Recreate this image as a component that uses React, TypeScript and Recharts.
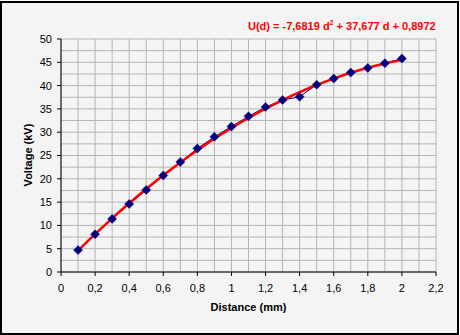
import React from 'react';
import { ComposedChart, Line, XAxis, YAxis, CartesianGrid } from 'recharts';

const distances = [0.1, 0.2, 0.3, 0.4, 0.5, 0.6, 0.7, 0.8, 0.9, 1.0, 1.1, 1.2, 1.3, 1.4, 1.5, 1.6, 1.7, 1.8, 1.9, 2.0];
const voltages = [4.7, 8.1, 11.4, 14.6, 17.6, 20.7, 23.6, 26.5, 29.0, 31.2, 33.4, 35.4, 36.9, 37.6, 40.2, 41.5, 42.8, 43.8, 44.8, 45.8];
const trend = [4.59, 8.13, 11.51, 14.74, 17.82, 20.74, 23.51, 26.12, 28.58, 30.89, 33.05, 35.05, 36.9, 38.59, 40.13, 41.51, 42.75, 43.83, 44.75, 45.52];
// grid lines every 0.1 / 2.5; labelled ticks every second one (0.2 / 5)
const xGridTicks = [0, 0.1, 0.2, 0.3, 0.4, 0.5, 0.6, 0.7, 0.8, 0.9, 1, 1.1, 1.2, 1.3, 1.4, 1.5, 1.6, 1.7, 1.8, 1.9, 2, 2.1, 2.2];
const yGridTicks = [0, 2.5, 5, 7.5, 10, 12.5, 15, 17.5, 20, 22.5, 25, 27.5, 30, 32.5, 35, 37.5, 40, 42.5, 45, 47.5, 50];

const data = distances.map((d, i) => ({ d, u: voltages[i], fit: trend[i] }));

const FONT = '"Liberation Sans", Arial, sans-serif';

const Diamond = (props: any) => {
  const { cx, cy } = props;
  if (cx == null || cy == null) return null;
  const r = 4.5;
  return (
    <polygon
      points={`${cx},${cy - r} ${cx + r},${cy} ${cx},${cy + r} ${cx - r},${cy}`}
      fill="#000080"
      stroke="#000080"
      strokeWidth={0.5}
    />
  );
};

const fmt = (v: number) => String(Math.round(v * 10) / 10).replace('.', ',');

const XTick = (props: any) => {
  const { x, y, payload } = props;
  const v = payload.value;
  if (Math.round(v * 10) % 2 !== 0) return <g />;
  return (
    <g>
      <line x1={x} x2={x} y1={y - 12} y2={y - 8} stroke="#000" strokeWidth={1} />
      <text x={x} y={y} dy="0.71em" textAnchor="middle" fontSize={11} fontFamily={FONT} fill="#000">
        {fmt(v)}
      </text>
    </g>
  );
};

const YTick = (props: any) => {
  const { x, y, payload } = props;
  const v = payload.value;
  if (Math.round(v / 2.5) % 2 !== 0) return <g />;
  return (
    <g>
      <line x1={x + 5} x2={x + 9} y1={y} y2={y} stroke="#000" strokeWidth={1} />
      <text x={x} y={y} dy="0.355em" textAnchor="end" fontSize={11} fontFamily={FONT} fill="#000">
        {fmt(v)}
      </text>
    </g>
  );
};

export default function App() {
  return (
    <div style={{ position: 'absolute', left: 0, top: 0, width: 460, height: 335, background: '#ffffff', fontFamily: FONT }}>
      <div
        style={{
          position: 'absolute',
          left: 0,
          top: 1,
          width: 459,
          height: 334,
          border: '2px solid #000',
          boxSizing: 'border-box',
          background: '#f4f4f4',
        }}
      />
      <div style={{ position: 'absolute', left: 0, top: 0 }}>
        <ComposedChart width={460} height={335} data={data} margin={{ top: 39, right: 24, bottom: 33, left: 21 }}>
          <CartesianGrid stroke="#b4b4b4" strokeWidth={1} />
          <XAxis
            type="number"
            dataKey="d"
            domain={[0, 2.2]}
            ticks={xGridTicks}
            height={30}
            tickSize={4}
            tickMargin={8}
            axisLine={{ stroke: '#000' }}
            tickLine={false}
            tick={<XTick />}
            interval={0}
          />
          <YAxis
            type="number"
            domain={[0, 50]}
            ticks={yGridTicks}
            width={40}
            tickSize={4}
            tickMargin={5}
            axisLine={{ stroke: '#000' }}
            tickLine={false}
            tick={<YTick />}
            interval={0}
          />
          <Line
            type="linear"
            dataKey="u"
            stroke="#000080"
            strokeWidth={1}
            dot={<Diamond />}
            activeDot={false}
            isAnimationActive={false}
          />
          <Line
            type="monotone"
            dataKey="fit"
            stroke="#ff0000"
            strokeWidth={2.5}
            dot={false}
            activeDot={false}
            isAnimationActive={false}
          />
        </ComposedChart>
      </div>
      <div
        style={{
          position: 'absolute',
          left: 248,
          top: 20.7,
          fontSize: 11,
          lineHeight: '11px',
          fontWeight: 'bold',
          color: '#ff0000',
          whiteSpace: 'nowrap',
        }}
      >
        U(d) = -7,6819 d<sup style={{ fontSize: 7, lineHeight: 0, verticalAlign: 'super' }}>2</sup> + 37,677 d + 0,8972
      </div>
      <div
        style={{
          position: 'absolute',
          left: 61,
          width: 375,
          top: 302,
          fontSize: 11,
          lineHeight: '11px',
          fontWeight: 'bold',
          color: '#000',
          textAlign: 'center',
          whiteSpace: 'nowrap',
        }}
      >
        Distance (mm)
      </div>
      <div
        style={{
          position: 'absolute',
          left: -72.3,
          top: 149,
          width: 200,
          height: 12,
          fontSize: 11,
          lineHeight: '12px',
          fontWeight: 'bold',
          color: '#000',
          textAlign: 'center',
          whiteSpace: 'nowrap',
          transform: 'rotate(-90deg)',
        }}
      >
        Voltage (kV)
      </div>
    </div>
  );
}
